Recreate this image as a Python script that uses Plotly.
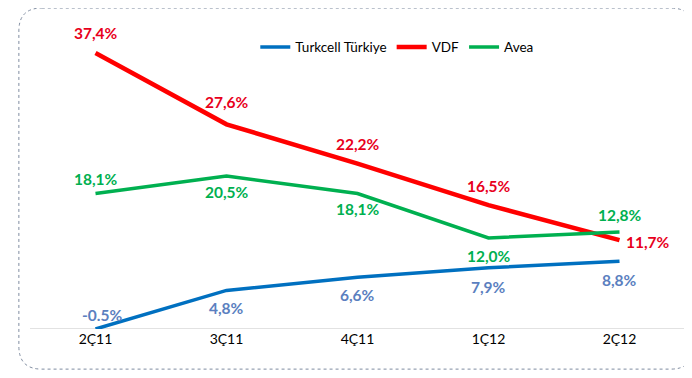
import plotly.graph_objects as go

categories = ["2Ç11", "3Ç11", "4Ç11", "1Ç12", "2Ç12"]
turkcell = [-0.5, 4.8, 6.6, 7.9, 8.8]
vdf = [37.4, 27.6, 22.2, 16.5, 11.7]
avea = [18.1, 20.5, 18.1, 12.0, 12.8]

def fmt(v):
    s = f"{v:.1f}"
    return (s if v < 0 else s.replace(".", ",")) + "%"

# label offsets (px): (xshift, yshift, xanchor)
turk_off = [(6, 14, "center"), (0, -18, "center"), (0, -18, "center"), (0, -19, "center"), (0, -19, "center")]
vdf_off = [(0, 20, "center"), (0, 22, "center"), (0, 20, "center"), (0, 19, "center"), (4, -2, "left")]
avea_off = [(0, 15, "center"), (0, -16, "center"), (0, -15, "center"), (0, -18, "center"), (0, 17, "center")]

font = "Lato, Open Sans, sans-serif"
series = [
    ("Turkcell Türkiye", turkcell, "#0070C0", "#5B7FC0", 3.5, turk_off),
    ("VDF", vdf, "#FF0000", "#E8001C", 4.5, vdf_off),
    ("Avea", avea, "#00B050", "#00B050", 3.5, avea_off),
]
fig = go.Figure()
annotations = []
for name, vals, lc, tc, w, offs in series:
    fig.add_trace(go.Scatter(x=categories, y=vals, name=name, mode="lines",
                             line=dict(color=lc, width=w)))
    for c, v, (xs, ys, xa) in zip(categories, vals, offs):
        annotations.append(dict(x=c, y=v, xref="x", yref="y", text=fmt(v), showarrow=False,
                                xshift=xs, yshift=ys, xanchor=xa, yanchor="middle",
                                font=dict(color=tc, size=15.5, family=font, weight="bold")))

fig.update_layout(
    width=692, height=378,
    margin=dict(l=22, r=15, t=26, b=57),
    paper_bgcolor="white", plot_bgcolor="white",
    font=dict(family=font, size=14, color="black"),
    showlegend=True,
    annotations=annotations,
    legend=dict(orientation="h", x=0.56, y=0.955, xanchor="center", yanchor="middle",
                font=dict(size=13.5, color="black"), itemwidth=30, tracegroupgap=0,
                bgcolor="rgba(0,0,0,0)"),
    xaxis=dict(showgrid=False, zeroline=False, showline=False, ticks="",
               tickfont=dict(size=14, color="black"), range=[-0.5, 4.5]),
    yaxis=dict(range=[-0.5, 40], showgrid=False, zeroline=False, showticklabels=False,
               showline=False, ticks=""),
)
# axis baseline
fig.add_shape(type="line", xref="paper", yref="y", x0=0, x1=1, y0=-0.5, y1=-0.5,
              line=dict(color="#D9D9D9", width=1.5), layer="below")
# rounded dotted border
x0, x1, y0, y1, r = -0.017, 1.013, 1.088, -0.136, 0.035
ry = r * 655 / 295
path = (f"M {x0+r},{y0} L {x1-r},{y0} Q {x1},{y0} {x1},{y0-ry} "
        f"L {x1},{y1+ry} Q {x1},{y1} {x1-r},{y1} L {x0+r},{y1} Q {x0},{y1} {x0},{y1+ry} "
        f"L {x0},{y0-ry} Q {x0},{y0} {x0+r},{y0} Z")
fig.add_shape(type="path", xref="paper", yref="paper", path=path,
              line=dict(color="#7F8CA0", width=1, dash="dot"))
fig.write_html("out.html")
